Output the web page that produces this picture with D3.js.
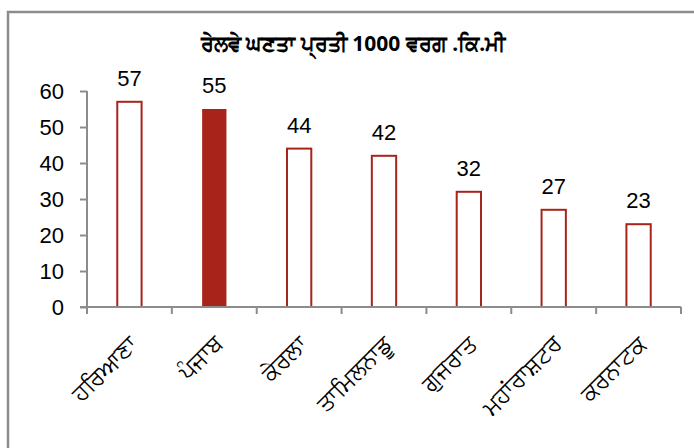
<!DOCTYPE html>
<html>
<head>
<meta charset="utf-8">
<script src="https://cdn.jsdelivr.net/npm/d3@7"></script>
<style>
  html, body { margin: 0; padding: 0; background: #fff; }
  svg { display: block; }
</style>
</head>
<body>
<svg id="chart" width="694" height="448"></svg>
<script>
// Railway density per 1000 sq. km, by state
const categories = ["ਹਰਿਆਣਾ", "ਪੰਜਾਬ", "ਕੇਰਲਾ", "ਤਾਮਿਲਨਾਡੂ", "ਗੁਜਰਾਤ", "ਮਹਾਂਰਾਸ਼ਟਰ", "ਕਰਨਾਟਕ"];
const values = [57, 55, 44, 42, 32, 27, 23];
const highlighted = ["ਪੰਜਾਬ"];
const yTicks = [0, 10, 20, 30, 40, 50, 60];
const title = "ਰੇਲਵੇ ਘਣਤਾ ਪ੍ਰਤੀ 1000 ਵਰਗ .ਕਿ.ਮੀ";

const svg = d3.select("#chart");
const red = "#A8241A";
const axisGrey = "#8c8c8c";
const font = "Arial, 'Liberation Sans', 'Noto Sans', sans-serif";

// outer frame
svg.append("rect")
  .attr("x", 8).attr("y", 12)
  .attr("width", 720).attr("height", 480)
  .attr("fill", "none")
  .attr("stroke", axisGrey)
  .attr("stroke-width", 2.5);

const plotLeft = 87, plotRight = 681, plotTop = 91, plotBottom = 307;

const y = d3.scaleLinear().domain([0, 60]).range([plotBottom, plotTop]);
const x = d3.scaleBand().domain(categories).range([plotLeft, plotRight])
  .paddingInner(0.69).paddingOuter(0.345);
const slots = d3.scaleBand().domain(categories).range([plotLeft, plotRight]).padding(0);

// title
svg.append("text")
  .attr("x", 353).attr("y", 51)
  .attr("text-anchor", "middle")
  .attr("font-family", "'Noto Sans', sans-serif")
  .attr("font-weight", "bold")
  .attr("font-size", 21)
  .attr("fill", "#000")
  .text(title);

// y axis
const yAxis = svg.append("g")
  .attr("transform", `translate(${plotLeft},0)`)
  .call(d3.axisLeft(y).tickValues(yTicks).tickSize(7).tickPadding(16).tickFormat(d3.format("d")));
yAxis.select(".domain").attr("stroke", axisGrey).attr("stroke-width", 2)
  .attr("d", `M0,${plotTop}V${plotBottom + 7}`);
yAxis.selectAll(".tick line").attr("stroke", axisGrey).attr("stroke-width", 2);
yAxis.selectAll(".tick text")
  .attr("font-family", font).attr("font-size", 22).attr("fill", "#000");

// bars
svg.append("g").selectAll("rect")
  .data(categories)
  .join("rect")
  .attr("x", d => x(d) + 1)
  .attr("y", (d, i) => y(values[i]))
  .attr("width", x.bandwidth() - 2)
  .attr("height", (d, i) => plotBottom - y(values[i]))
  .attr("fill", d => highlighted.includes(d) ? red : "#fff")
  .attr("stroke", red)
  .attr("stroke-width", d => highlighted.includes(d) ? 0 : 2);

// x axis
const xAxis = svg.append("g")
  .attr("transform", `translate(0,${plotBottom})`);
xAxis.append("line")
  .attr("x1", plotLeft - 7).attr("x2", plotRight)
  .attr("stroke", axisGrey).attr("stroke-width", 2);
xAxis.selectAll("line.tick")
  .data(categories.concat(["end"]))
  .join("line")
  .attr("class", "tick")
  .attr("x1", (d, i) => i < categories.length ? slots(d) : plotRight)
  .attr("x2", (d, i) => i < categories.length ? slots(d) : plotRight)
  .attr("y1", 0).attr("y2", 7)
  .attr("stroke", axisGrey).attr("stroke-width", 2);

// value labels
svg.append("g").selectAll("text")
  .data(categories)
  .join("text")
  .attr("x", d => x(d) + x.bandwidth() / 2)
  .attr("y", (d, i) => y(values[i]) - 16)
  .attr("text-anchor", "middle")
  .attr("font-family", font).attr("font-size", 22).attr("fill", "#000")
  .text((d, i) => values[i]);

// category labels, rotated
svg.append("g").selectAll("text")
  .data(categories)
  .join("text")
  .attr("transform", d => `translate(${x(d) + x.bandwidth() / 2 - 2},${plotBottom + 27}) rotate(-45)`)
  .attr("text-anchor", "end")
  .attr("dy", "0.7em")
  .attr("font-family", "'Noto Sans', sans-serif")
  .attr("font-size", 23)
  .attr("fill", "#000")
  .text(d => d);
</script>
</body>
</html>
